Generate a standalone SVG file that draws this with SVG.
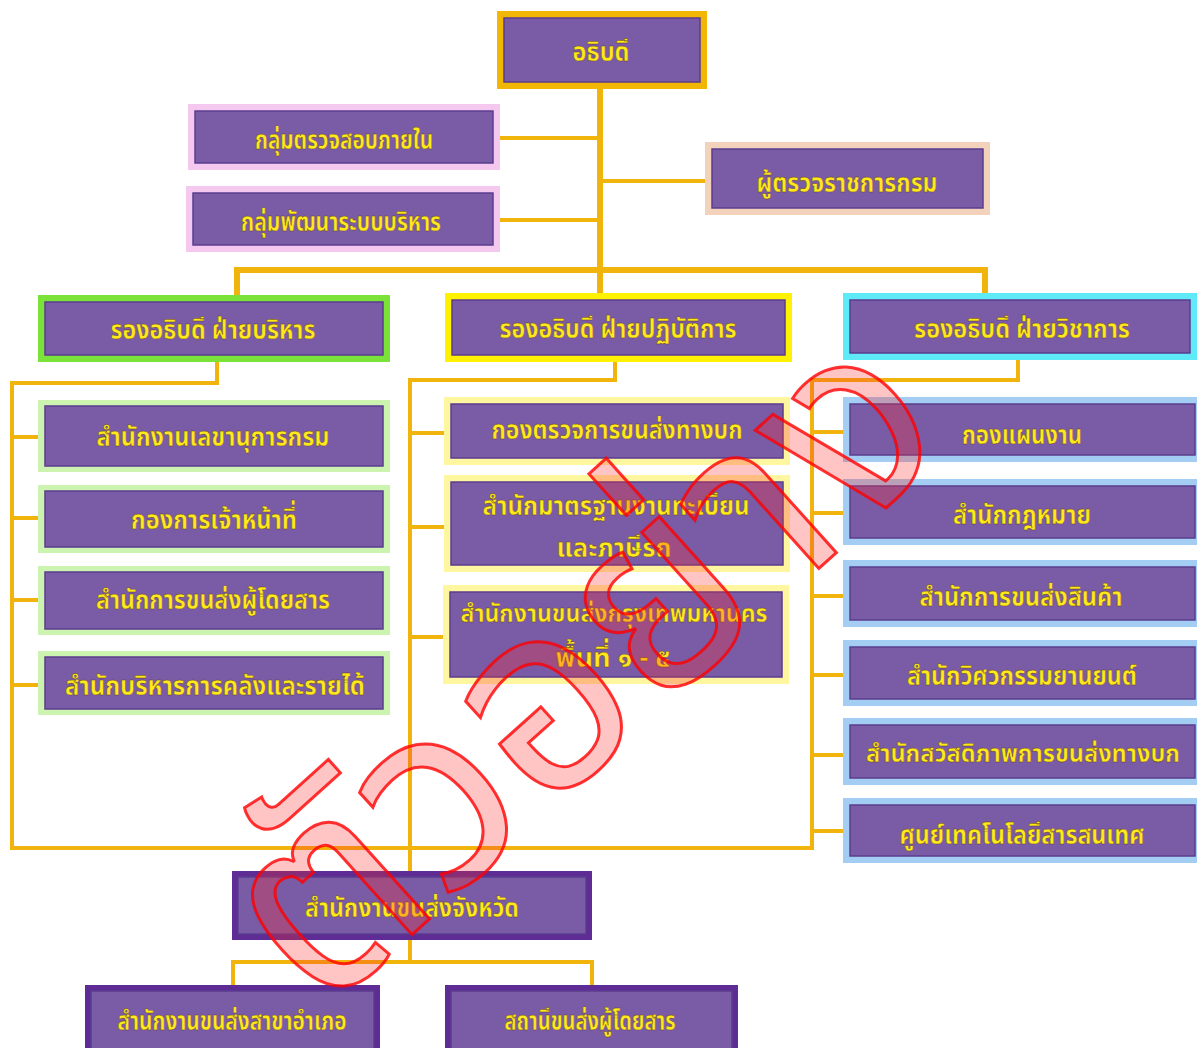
<svg xmlns="http://www.w3.org/2000/svg" width="1197" height="1048" viewBox="0 0 1197 1048">
<style>
.t{font-family:"Noto Sans Thai","Noto Sans","DejaVu Sans","Liberation Sans",sans-serif;font-weight:bold;font-size:27px;fill:#FFE81C;text-anchor:middle;dominant-baseline:central;stroke:#5a3a1a;stroke-width:0.4px}
.s{font-size:24px}
.in{fill:#7A5BA6;stroke:#5B3C8E;stroke-width:1.5}
.c{fill:none;stroke:#F0B40C;stroke-width:4;stroke-linecap:square}
.ct{fill:none;stroke:#F0B40C;stroke-width:6;stroke-linecap:square}
.wm{font-family:"Noto Sans Thai","Noto Sans","DejaVu Sans",sans-serif;font-weight:400;font-size:265px;fill:#FF2A2A;fill-opacity:0.28;stroke:#FF0000;stroke-width:3;stroke-opacity:0.8;text-anchor:middle;dominant-baseline:central}
</style>
<rect width="1197" height="1048" fill="#FFFFFF"/>
<g id="connectors">
<path class="ct" d="M600,89 V270 M237,270 H985 M237,270 V295 M600,270 V293 M985,270 V293"/>
<path class="c" d="M500,138 H600 M498,220 H600 M600,181 H705"/>
<path class="c" d="M217,362 V383 H12 V848 H812 M12,437 H38 M12,518 H38 M12,600 H38 M12,685 H38"/>
<path class="c" d="M615,362 V380 H410 V871 M410,433 H444 M410,527 H444 M410,637 H443"/>
<path class="c" d="M1018,360 V380 H812 V848 M812,432 H843 M812,513 H843 M812,596 H843 M812,675 H843 M812,755 H843 M812,831 H843"/>
<path class="c" d="M410,940 V962 M233,985 V962 H592 V985"/>
</g>
<g id="n1"><rect x="497" y="11" width="210" height="78" fill="#F2B705"/><rect class="in" x="504" y="18" width="196" height="64"/><text class="t" x="601" y="52" textLength="57" lengthAdjust="spacingAndGlyphs">อธิบดี</text></g>
<g id="n2"><rect x="188" y="104" width="312" height="66" fill="#F5C8F0"/><rect class="in" x="195" y="111" width="298" height="52"/><text class="t" x="344" y="140" textLength="178" lengthAdjust="spacingAndGlyphs">กลุ่มตรวจสอบภายใน</text></g>
<g id="n3"><rect x="186" y="186" width="314" height="66" fill="#F5C8F0"/><rect class="in" x="193" y="193" width="300" height="52"/><text class="t" x="341" y="222" textLength="200" lengthAdjust="spacingAndGlyphs">กลุ่มพัฒนาระบบบริหาร</text></g>
<g id="n4"><rect x="705" y="142" width="285" height="73" fill="#F3D2BC"/><rect class="in" x="712" y="149" width="271" height="59"/><text class="t" x="847" y="183" textLength="181" lengthAdjust="spacingAndGlyphs">ผู้ตรวจราชการกรม</text></g>
<g id="n5"><rect x="38" y="295" width="352" height="67" fill="#7BE23A"/><rect class="in" x="45" y="302" width="338" height="53"/><text class="t" x="213" y="330" textLength="205" lengthAdjust="spacingAndGlyphs">รองอธิบดี ฝ่ายบริหาร</text></g>
<g id="n6"><rect x="445" y="293" width="347" height="69" fill="#FFF200"/><rect class="in" x="452" y="300" width="333" height="55"/><text class="t" x="618" y="329" textLength="237" lengthAdjust="spacingAndGlyphs">รองอธิบดี ฝ่ายปฏิบัติการ</text></g>
<g id="n7"><rect x="843" y="293" width="354" height="67" fill="#5EEBF7"/><rect class="in" x="850" y="300" width="340" height="53"/><text class="t" x="1022" y="329" textLength="216" lengthAdjust="spacingAndGlyphs">รองอธิบดี ฝ่ายวิชาการ</text></g>
<g id="n8"><rect x="38" y="400" width="352" height="72" fill="#CDF3B0"/><rect class="in" x="45" y="406" width="338" height="60"/><text class="t" x="213" y="437" textLength="233" lengthAdjust="spacingAndGlyphs">สำนักงานเลขานุการกรม</text></g>
<g id="n9"><rect x="38" y="485" width="352" height="68" fill="#CDF3B0"/><rect class="in" x="45" y="491" width="338" height="56"/><text class="t" x="214" y="520" textLength="166" lengthAdjust="spacingAndGlyphs">กองการเจ้าหน้าที่</text></g>
<g id="n10"><rect x="38" y="566" width="352" height="69" fill="#CDF3B0"/><rect class="in" x="45" y="572" width="338" height="57"/><text class="t" x="213" y="600" textLength="234" lengthAdjust="spacingAndGlyphs">สำนักการขนส่งผู้โดยสาร</text></g>
<g id="n11"><rect x="38" y="651" width="352" height="64" fill="#CDF3B0"/><rect class="in" x="45" y="657" width="338" height="52"/><text class="t" x="215" y="686" textLength="300" lengthAdjust="spacingAndGlyphs">สำนักบริหารการคลังและรายได้</text></g>
<g id="n12"><rect x="444" y="397" width="346" height="68" fill="#FFF7A0"/><rect class="in" x="451" y="404" width="332" height="54"/><text class="t" x="617" y="430" textLength="251" lengthAdjust="spacingAndGlyphs">กองตรวจการขนส่งทางบก</text></g>
<g id="n13"><rect x="444" y="475" width="346" height="97" fill="#FFF7A0"/><rect class="in" x="451" y="482" width="332" height="83"/><text class="t" x="616" y="506" textLength="267" lengthAdjust="spacingAndGlyphs">สำนักมาตรฐานงานทะเบียน</text><text class="t" x="614" y="548" textLength="115" lengthAdjust="spacingAndGlyphs">และภาษีรถ</text></g>
<g id="n14"><rect x="443" y="585" width="346" height="99" fill="#FFF7A0"/><rect class="in" x="450" y="592" width="332" height="85"/><text class="t s" x="614" y="615" textLength="307" lengthAdjust="spacingAndGlyphs">สำนักงานขนส่งกรุงเทพมหานคร</text><text class="t" x="613" y="658" textLength="115" lengthAdjust="spacingAndGlyphs">พื้นที่ ๑ - ๕</text></g>
<g id="n15"><rect x="843" y="397" width="354" height="65" fill="#A3CDF2"/><rect class="in" x="850" y="404" width="345" height="51"/><text class="t" x="1022" y="435" textLength="120" lengthAdjust="spacingAndGlyphs">กองแผนงาน</text></g>
<g id="n16"><rect x="843" y="479" width="354" height="66" fill="#A3CDF2"/><rect class="in" x="850" y="486" width="345" height="52"/><text class="t" x="1022" y="515" textLength="138" lengthAdjust="spacingAndGlyphs">สำนักกฎหมาย</text></g>
<g id="n17"><rect x="843" y="560" width="354" height="67" fill="#A3CDF2"/><rect class="in" x="850" y="567" width="345" height="53"/><text class="t" x="1021" y="597" textLength="203" lengthAdjust="spacingAndGlyphs">สำนักการขนส่งสินค้า</text></g>
<g id="n18"><rect x="843" y="640" width="354" height="66" fill="#A3CDF2"/><rect class="in" x="850" y="647" width="345" height="52"/><text class="t" x="1022" y="676" textLength="230" lengthAdjust="spacingAndGlyphs">สำนักวิศวกรรมยานยนต์</text></g>
<g id="n19"><rect x="843" y="718" width="354" height="67" fill="#A3CDF2"/><rect class="in" x="850" y="725" width="345" height="53"/><text class="t s" x="1023" y="755" textLength="314" lengthAdjust="spacingAndGlyphs">สำนักสวัสดิภาพการขนส่งทางบก</text></g>
<g id="n20"><rect x="843" y="798" width="354" height="65" fill="#A3CDF2"/><rect class="in" x="850" y="805" width="345" height="51"/><text class="t" x="1022" y="835" textLength="245" lengthAdjust="spacingAndGlyphs">ศูนย์เทคโนโลยีสารสนเทศ</text></g>
<g id="n21"><rect x="232" y="871" width="360" height="69" fill="#5E2C94"/><rect class="in" x="238" y="877" width="348" height="57"/><text class="t" x="412" y="908" textLength="214" lengthAdjust="spacingAndGlyphs">สำนักงานขนส่งจังหวัด</text></g>
<g id="n22"><rect x="85" y="985" width="295" height="70" fill="#5E2C94"/><rect class="in" x="91" y="991" width="283" height="60"/><text class="t" x="232" y="1021" textLength="229" lengthAdjust="spacingAndGlyphs">สำนักงานขนส่งสาขาอำเภอ</text></g>
<g id="n23"><rect x="445" y="985" width="293" height="70" fill="#5E2C94"/><rect class="in" x="451" y="991" width="281" height="60"/><text class="t" x="590" y="1021" textLength="171" lengthAdjust="spacingAndGlyphs">สถานีขนส่งผู้โดยสาร</text></g>
<g id="watermark"><text class="wm" x="585" y="670" transform="rotate(-42 585 670)">ตัวอย่าง</text></g>
</svg>
